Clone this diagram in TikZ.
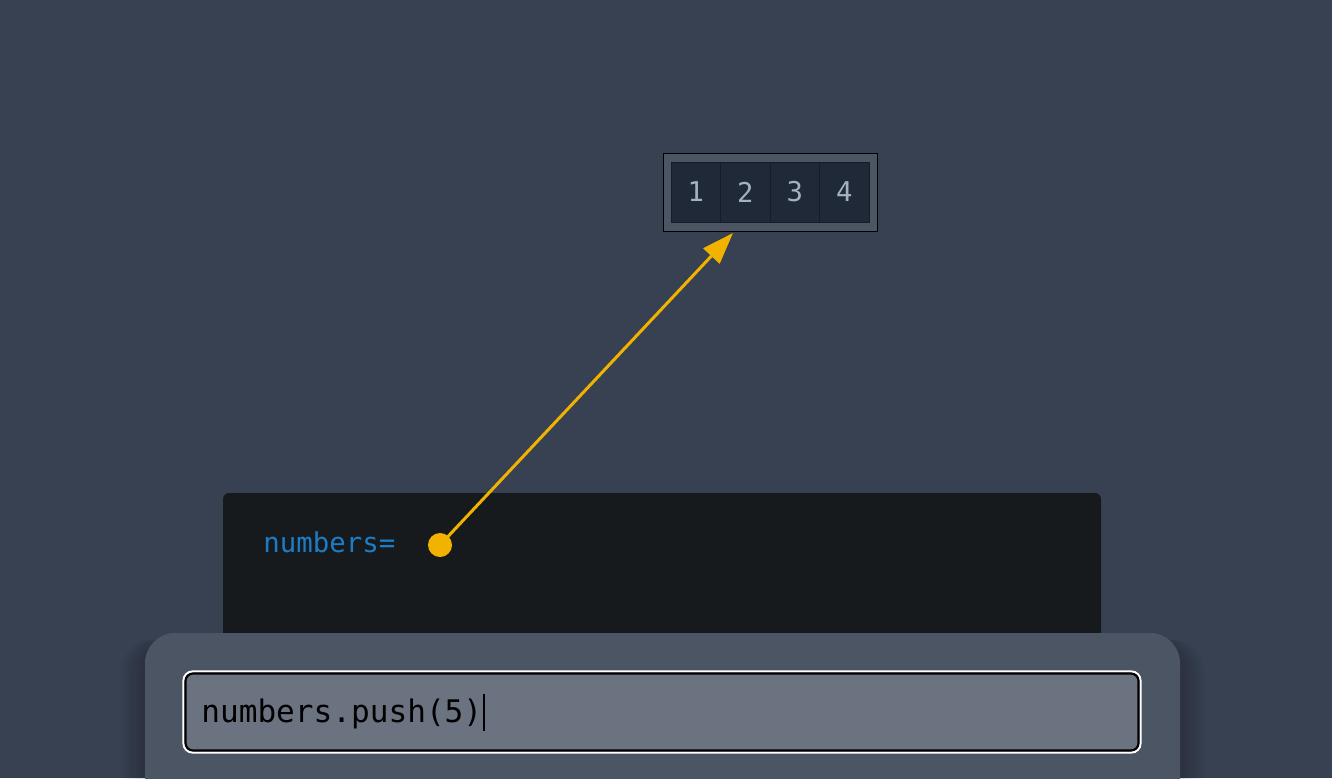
\documentclass[tikz,border=0pt]{standalone}
\usepackage{fontspec}
\setmonofont{DejaVu Sans Mono}
\usetikzlibrary{arrows.meta}
\usetikzlibrary{positioning}

\definecolor{pagebg}{HTML}{374151}
\definecolor{panelgray}{HTML}{4B5563}
\definecolor{cellfill}{HTML}{1F2937}
\definecolor{cellline}{HTML}{141C28}
\definecolor{digitgray}{HTML}{A3B1C2}
\definecolor{codebg}{HTML}{171A1D}
\definecolor{varblue}{HTML}{1C7DC6}
\definecolor{pointer}{HTML}{F2B300}
\definecolor{inputfill}{HTML}{6B7280}

\tikzset{
    cell/.style={draw=cellline, fill=cellfill, minimum width=0.99cm, minimum height=1.2cm,
        inner sep=0pt, text=digitgray, font=\ttfamily\fontsize{15.5}{15.5}\selectfont},
    codefont/.style={font=\ttfamily\fontsize{15.6}{15.6}\selectfont},
    inputfont/.style={font=\ttfamily\fontsize{17.7}{17.7}\selectfont}
}

\begin{document}
\begin{tikzpicture}[x=0.02cm, y=-0.02cm]
    \clip (0, 0) rectangle (1332, 778);
    \fill[pagebg] (0, 0) rectangle (1332, 778);

    % the array on the heap
    \node[draw=black, fill=panelgray, minimum width=4.28cm, minimum height=1.56cm] (arr) at (770, 192) {};
    \foreach \v [count=\i from 0] in {1,2,3,4} {
        \node[cell] (cell\v) at (695.75 + 49.5*\i, 192) {\v};
    }

    % code panel
    \fill[codebg, rounded corners=0.12cm] (223, 493) rectangle (1101, 720);
    \node[codefont, text=varblue, anchor=base west, inner sep=0pt] (var) at (263, 552) {numbers=};
    \node[circle, fill=pointer, minimum size=0.48cm, inner sep=0pt] (ptr) at (440, 545) {};
    \coordinate (tip) at (733, 233);
    \draw[pointer, line width=1.7pt, -{Triangle[length=18pt, width=12.5pt]}] (ptr.center) -- (tip);

    % console panel with its shadow
    \foreach \s in {3,6,...,24} {
        \fill[black, opacity=0.018, rounded corners=0.6cm] (145-\s, 640) rectangle (1180+\s, 820);
    }
    \fill[panelgray, rounded corners=0.6cm] (145, 633) rectangle (1180, 830);
    \draw[white, line width=1.2pt, rounded corners=0.18cm] (183.5, 671.5) rectangle (1140.5, 752.5);
    \draw[black, fill=inputfill, line width=1.2pt, rounded corners=0.15cm] (185.5, 673.5) rectangle (1138.5, 750.5);
    \node[inputfont, text=black, anchor=base west, inner sep=0pt] (cmd) at (201, 722) {numbers.push(5)};
    \coordinate (caret top) at (484, 694);
    \coordinate (caret bot) at (484, 731);
    \draw[black, line width=0.6pt] (caret top) -- (caret bot);
\end{tikzpicture}
\end{document}
